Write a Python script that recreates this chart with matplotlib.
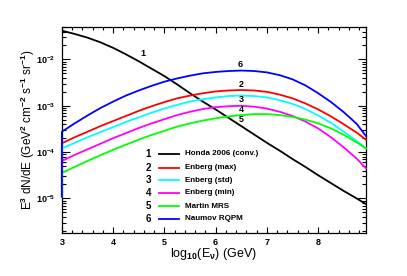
import numpy as np
import matplotlib
matplotlib.use('Agg')
import matplotlib.pyplot as plt
from matplotlib.ticker import MultipleLocator, LogLocator, NullFormatter

plt.rcParams['font.family'] = ['Liberation Sans', 'DejaVu Sans']
plt.rcParams['font.weight'] = 'bold'
plt.rcParams['mathtext.fontset'] = 'custom'
plt.rcParams['mathtext.rm'] = 'Liberation Sans:bold'
plt.rcParams['mathtext.it'] = 'Liberation Sans:bold'
plt.rcParams['mathtext.bf'] = 'Liberation Sans:bold'
plt.rcParams['mathtext.sf'] = 'Liberation Sans:bold'

# log10(E / GeV) sample points
logE = [3.0, 3.25, 3.5, 3.75, 4.0, 4.25, 4.5, 4.75, 5.0, 5.25, 5.5, 5.75,
        6.0, 6.25, 6.5, 6.75, 7.0, 7.25, 7.5, 7.75, 8.0, 8.25, 8.5, 8.75, 8.93]

# log10 of E^3 dN/dE
honda = [-1.38, -1.45, -1.53, -1.63, -1.75, -1.89, -2.04, -2.20, -2.36, -2.54,
         -2.73, -2.91, -3.08, -3.26, -3.44, -3.62, -3.80, -3.97, -4.15, -4.32,
         -4.50, -4.67, -4.84, -5.00, -5.12]
enberg_max = [-3.81, -3.68, -3.56, -3.44, -3.33, -3.22, -3.11, -3.01, -2.92, -2.84,
              -2.78, -2.73, -2.69, -2.67, -2.66, -2.67, -2.70, -2.76, -2.84, -2.95,
              -3.08, -3.23, -3.40, -3.58, -3.73]
enberg_std = [-3.92, -3.80, -3.68, -3.57, -3.46, -3.35, -3.25, -3.15, -3.06, -2.98,
              -2.91, -2.86, -2.82, -2.79, -2.78, -2.79, -2.82, -2.88, -2.96, -3.07,
              -3.21, -3.37, -3.56, -3.76, -3.92]
enberg_min = [-4.19, -4.06, -3.94, -3.82, -3.70, -3.59, -3.48, -3.38, -3.29, -3.20,
              -3.13, -3.07, -3.03, -3.01, -3.00, -3.02, -3.06, -3.13, -3.22, -3.34,
              -3.49, -3.68, -3.90, -4.14, -4.35]
martin_mrs = [-4.45, -4.32, -4.19, -4.07, -3.95, -3.84, -3.73, -3.63, -3.54, -3.45,
              -3.38, -3.32, -3.27, -3.23, -3.20, -3.18, -3.18, -3.20, -3.24, -3.30,
              -3.38, -3.49, -3.63, -3.79, -3.92]
naumov_rqpm = [-3.56, -3.38, -3.21, -3.05, -2.91, -2.78, -2.67, -2.57, -2.48, -2.41,
               -2.35, -2.30, -2.27, -2.25, -2.24, -2.25, -2.28, -2.34, -2.43, -2.56,
               -2.73, -2.92, -3.14, -3.39, -3.65]
# the prompt graphs start from a low first point at log10(E)=3
prompt_start = 1.1e-5

names = ['Honda 2006 (conv.)', 'Enberg (max)', 'Enberg (std)',
         'Enberg (min)', 'Martin MRS', 'Naumov RQPM']
colors = ['black', '#ff0000', '#00ffff', '#ff00ff', '#00ff00', '#0000ff']
series = [honda, enberg_max, enberg_std, enberg_min, martin_mrs, naumov_rqpm]

# curve number labels
lab_x = [4.58, 6.49, 6.50, 6.50, 6.50, 6.47]
lab_y = [1.32e-2, 2.9e-3, 1.38e-3, 8.5e-4, 5.1e-4, 7.6e-3]

fig = plt.figure(figsize=(4.07, 2.76), dpi=100)
ax = fig.add_axes([0.152, 0.156, 0.747, 0.746])

for i, (vals, c) in enumerate(zip(series, colors)):
    y = 10 ** np.array(vals)
    if i == 0:
        ax.plot(logE, y, color=c, lw=1.3, zorder=3)
    else:
        ax.plot([logE[0]] + logE, np.concatenate([[prompt_start], y]),
                color=c, lw=1.3, zorder=3, clip_on=False)

for i in range(6):
    ax.text(lab_x[i], lab_y[i], str(i + 1), fontsize=6.5, ha='center', va='center')

ax.set_yscale('log')
ax.set_xlim(3, 8.93)
ax.set_ylim(1.8e-6, 5e-2)

ax.xaxis.set_major_locator(MultipleLocator(1))
ax.xaxis.set_minor_locator(MultipleLocator(0.2))
ax.yaxis.set_major_locator(LogLocator(base=10, numticks=20))
ax.yaxis.set_minor_locator(LogLocator(base=10, subs=np.arange(2, 10), numticks=20))
ax.yaxis.set_minor_formatter(NullFormatter())

ax.tick_params(which='both', direction='in', top=True, right=True, width=0.8)
ax.tick_params(axis='x', which='major', length=4.5, labelsize=6.5, pad=4)
ax.tick_params(axis='x', which='minor', length=2.3)
ax.tick_params(axis='y', which='major', length=5.5, labelsize=6.5, pad=5)
ax.tick_params(axis='y', which='minor', length=2.8)
for s in ax.spines.values():
    s.set_linewidth(0.9)

ax.set_xlabel(r'log$_{10}$(E$_{\nu}$) (GeV)', fontsize=9)
ax.xaxis.set_label_coords(0.5, -0.065)
ax.set_ylabel(r'E$^{3}$ dN/dE (GeV$^{2}$ cm$^{-2}$ s$^{-1}$ sr$^{-1}$)', fontsize=8.5)
ax.yaxis.set_label_coords(-0.082, 0.5)

# hand-made ROOT style legend: number, line sample, name
rows_y = [0.384, 0.317, 0.256, 0.195, 0.130, 0.070]
for i in range(6):
    y = rows_y[i]
    ax.text(0.285, y, str(i + 1), transform=ax.transAxes, fontsize=7,
            ha='center', va='center')
    ax.plot([0.319, 0.385], [y, y], transform=ax.transAxes, color=colors[i], lw=1.3)
    ax.text(0.405, y, names[i], transform=ax.transAxes, fontsize=5.8,
            ha='left', va='center')

fig.savefig('out.png', dpi=100)
